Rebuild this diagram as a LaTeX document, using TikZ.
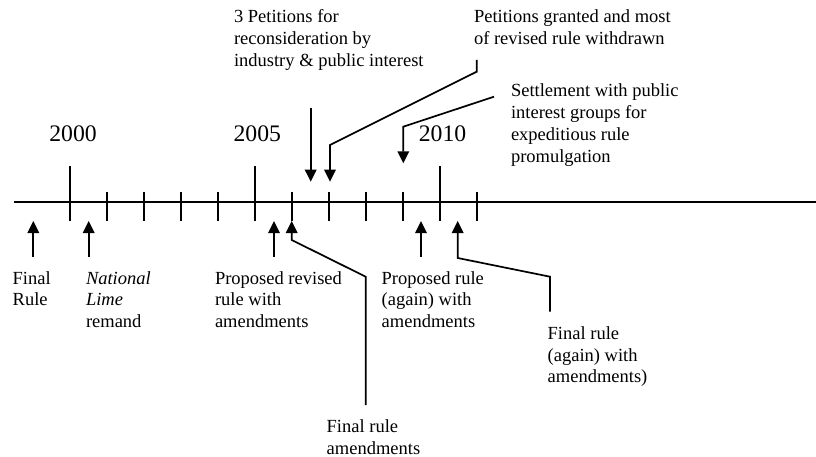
\documentclass[tikz,border=0pt]{standalone}
\usepackage{fontspec}
\setmainfont{Liberation Serif}
\usetikzlibrary{arrows.meta,positioning}
\tikzset{
	lbl/.style={anchor=base west, align=left, inner sep=0, outer sep=0,
		font=\fontsize{18.5}{21.8}\selectfont},
	yr/.style={anchor=base, inner sep=0, outer sep=0,
		font=\fontsize{23.7}{28}\selectfont},
	ptr/.style={->, line width=1.7pt},
}
\begin{document}
\begin{tikzpicture}[x=1pt,y=-1pt,line width=1.7pt,
					>={Triangle[length=12pt,width=11.5pt]}]
					\useasboundingbox (0,0) rectangle (816,457);
					% time line and ticks
					\coordinate (start) at (14,202.3);
					\coordinate (stop) at (816,202.3);
					\draw (start) -- (stop);
					\foreach \i in {0,...,11} {
						\coordinate (t\i) at (70.3+37*\i,202.3);
						\draw (t\i) ++(0,-10) -- ++(0,28.7);
					}
					\foreach \i in {0,5,10}
						\draw (t\i) ++(0,-36) -- ++(0,54.7);
					\node[yr] (y2000) at (73,141.7) {2000};
					\node[yr] (y2005) at (257.3,141.7) {2005};
					\node[yr] (y2010) at (442.5,141.7) {2010};
					% texts below the line (placed at the baseline of the last line)
					\node[lbl] (finalrule) at (12.7,305.8) {Final\\Rule};
					\node[lbl] (remand) at (86,327.6) {\textit{National}\\\textit{Lime}\\remand};
					\node[lbl] (proprev) at (215,327.6) {Proposed revised\\rule with\\amendments};
					\node[lbl] (propagain) at (381.7,327.6) {Proposed rule\\(again) with\\amendments};
					\node[lbl] (finamend) at (326.7,454) {Final rule\\amendments};
					\node[lbl] (finagain) at (547.7,382.9) {Final rule\\(again) with\\amendments)};
					% texts above the line
					\node[lbl] (petitions) at (234,66.6) {3 Petitions for\\reconsideration by\\industry \& public interest};
					\node[lbl] (granted) at (474,44.3) {Petitions granted and most\\of revised rule withdrawn};
					\node[lbl] (settle) at (511,162.1) {Settlement with public\\interest groups for\\expeditious rule\\promulgation};
					% arrow ends
					\coordinate (below) at (0,221);
					\coordinate (above) at (0,181.7);
					\coordinate (c1) at (33.3,256.7);
					\coordinate (c2) at (88.7,256.7);
					\coordinate (c3) at (274,256.7);
					\coordinate (c4) at (365.7,405);
					\coordinate (c5) at (421,256.7);
					\coordinate (c6) at (550,311.7);
					\coordinate (c7) at (310.7,108.3);
					\coordinate (c8) at (476.7,60);
					\coordinate (c9) at (494,96.7);
					\draw[ptr] (c1) -- (c1 |- below);
					\draw[ptr] (c2) -- (c2 |- below);
					\draw[ptr] (c3) -- (c3 |- below);
					\draw[ptr] (c4) -- ++(0,-128.3) -- ++(-74,-36.7) -- ++(0,-19);
					\draw[ptr] (c5) -- (c5 |- below);
					\draw[ptr] (c6) -- ++(0,-35) -- ++(-92.3,-18.7) -- ++(0,-37);
					\draw[ptr] (c7) -- (c7 |- above);
					\draw[ptr] (c8) -- ++(0,11.7) -- ++(-146.7,73.3) -- ++(0,36.7);
					\draw[ptr] (c9) -- ++(-90.7,30) -- ++(0,36.6);
				\end{tikzpicture}
\end{document}
